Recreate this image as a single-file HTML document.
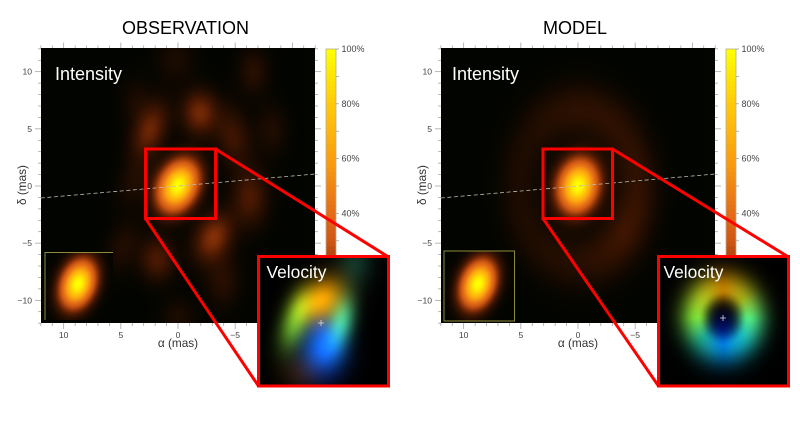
<!DOCTYPE html>
<html lang="en">
<head>
<meta charset="utf-8">
<title>Observation and model maps</title>
<style>
html,body{margin:0;padding:0;background:#fff;}
#stage{position:relative;width:800px;height:428px;overflow:hidden;background:#fff;font-family:"Liberation Sans",sans-serif;}
#stage svg{position:absolute;left:0;top:0;filter:blur(0.25px);}
#stage canvas{position:absolute;display:block;}
</style>
</head>
<body>
<div id="stage">
  <svg id="under" width="800" height="428"></svg>
  <canvas id="obs-map" width="274" height="275" style="left:41px;top:48px"></canvas>
  <canvas id="model-map" width="274" height="275" style="left:441px;top:48px"></canvas>
  <canvas id="obs-beam" width="68" height="68" style="left:45px;top:252px"></canvas>
  <canvas id="model-beam" width="71" height="71" style="left:444px;top:251px"></canvas>
  <canvas id="obs-vel" width="133" height="132" style="left:257px;top:255px"></canvas>
  <canvas id="model-vel" width="133" height="132" style="left:657px;top:255px"></canvas>
  <svg id="over" width="800" height="428"></svg>
</div>
<script>
/* axis data */
const axisTickLabels = [10, 5, 0, -5, -10];
const axisMinorTicks = [-12,-11,-10,-9,-8,-7,-6,-5,-4,-3,-2,-1,0,1,2,3,4,5,6,7,8,9,10,11,12];
const colorbarTickLabels = [100, 80, 60, 40];
const colorbarTicks = [100, 90, 80, 70, 60, 50, 40, 30];
const colormapLevels = [0, 0.1, 0.2, 0.3, 0.4, 0.6, 0.8, 1];
const colormapRed = [0, 72, 150, 205, 226, 250, 255, 255];
const colormapGreen = [0, 20, 52, 86, 106, 158, 200, 255];
const colormapBlue = [0, 2, 10, 20, 24, 16, 10, 0];

/* observation intensity components, mas */
const obsAlpha = [0, 2.45, -1.9, -6.6, -4.8, -6.3, -3.1, 1.8, 4.8, -3.9, 0, 0.2, 3.7, -8.2, 3.8];
const obsDelta = [0, 4.9, 6.4, 10, 4.3, -1, -4.5, -6.4, -5.3, -8.3, -11.5, 11, 7.5, 4.9, 0.5];
const obsAmp = [1, 0.14, 0.15, 0.05, 0.08, 0.1, 0.17, 0.1, 0.04, 0.05, 0.035, 0.035, 0.03, 0.04, 0.04];
const obsMajor = [1.4, 1.7, 1.3, 1.4, 1.8, 1.7, 1.5, 1.3, 1.7, 1.6, 1.15, 1.4, 1.4, 1.5, 1.6];
const obsMinor = [1.0, 0.95, 1.05, 0.95, 1.05, 1.05, 1.05, 1.05, 0.95, 1.05, 1.05, 1.15, 0.95, 0.95, 0.95];
const obsTilt = [25, 20, 0, 0, -10, 0, 25, 0, 20, 0, 0, 0, 0, 0, 20];

/* model intensity: central source and ring amplitude by sector (top, then counter-clockwise on screen) */
const modelAlpha = [0];
const modelDelta = [0];
const modelAmp = [1];
const modelMajor = [1.4];
const modelMinor = [1.05];
const modelTilt = [12];
const modelRingAmp = [0.06, 0.04, 0.035, 0.04, 0.05, 0.085, 0.065, 0.06];
const modelRingRadiusAlpha = [5.1];
const modelRingRadiusDelta = [6.6];
const modelRingWidth = [1.7];

/* beam */
const beamMajor = [1.3];
const beamMinor = [0.88];
const beamTilt = [20];

/* observation velocity components, mas relative to the cross */
const velAlpha = [-0.05, 1.3, -1.0, -0.15, 0.95, -1.65, 0, 1.0, 0];
const velDelta = [1.1, 0, 0.05, -1.15, 0.95, 2.95, -2.2, -2.4, -0.2];
const velMajor = [0.85, 0.95, 0.85, 0.75, 0.6, 0.8, 0.8, 0.7, 0.4];
const velMinor = [0.65, 0.45, 0.42, 0.72, 0.4, 0.6, 0.8, 0.7, 0.4];
const velTilt = [40, 18, 14, 0, 20, 0, 0, 0, 0];
const velRed = [245, 90, 55, 10, 35, 15, 5, 40, 0];
const velGreen = [160, 155, 180, 95, 45, 50, 15, 20, 8];
const velBlue = [0, 35, 125, 225, 5, 40, 60, 0, 60];

/* model velocity ring colours by sector (top, then counter-clockwise on screen) */
const ringRed = [195, 170, 125, 30, 0, 25, 85, 160];
const ringGreen = [125, 190, 225, 165, 120, 180, 235, 170];
const ringBlue = [0, 30, 55, 130, 195, 175, 125, 25];
const ringRadiusX = [25];
const ringRadiusY = [28];

/* position-angle line */
const lineAlpha = [12, -12];
const lineDelta = [-1.05, 1.05];

const SCALE = 11.43;
const NS = 'http://www.w3.org/2000/svg';
const under = document.getElementById('under');
const over = document.getElementById('over');

function xScale(alpha, x0) { return x0 - alpha * SCALE; }
function yScale(delta) { return 186 - delta * SCALE; }
function barY(pct) { return 49 + (100 - pct) * 2.74; }

function lerp(a, b, t) { return a + (b - a) * t; }
function colormap(v) {
  v = Math.max(0, Math.min(1, v));
  let i = 0;
  while (i < colormapLevels.length - 2 && v > colormapLevels[i + 1]) i++;
  const t = (v - colormapLevels[i]) / (colormapLevels[i + 1] - colormapLevels[i]);
  return [lerp(colormapRed[i], colormapRed[i + 1], t), lerp(colormapGreen[i], colormapGreen[i + 1], t), lerp(colormapBlue[i], colormapBlue[i + 1], t)];
}
function gauss(dx, dy, major, minor, tilt) {
  const a = tilt * Math.PI / 180;
  const u = dx * Math.sin(a) + dy * Math.cos(a);
  const w = dx * Math.cos(a) - dy * Math.sin(a);
  return Math.exp(-(u * u) / (2 * major * major) - (w * w) / (2 * minor * minor));
}
function sector(values, dx, dy) {
  let ang = Math.atan2(-dx, dy);
  if (ang < 0) ang += 2 * Math.PI;
  const n = values.length;
  const p = ang / (2 * Math.PI) * n;
  const i = Math.floor(p) % n;
  return lerp(values[i], values[(i + 1) % n], p - Math.floor(p));
}
function paint(id, fn) {
  const c = document.getElementById(id);
  const g = c.getContext('2d');
  const img = g.createImageData(c.width, c.height);
  for (let y = 0; y < c.height; y++) {
    for (let x = 0; x < c.width; x++) {
      const rgb = fn(x + 0.5, y + 0.5);
      const k = (y * c.width + x) * 4;
      img.data[k] = rgb[0];
      img.data[k + 1] = rgb[1];
      img.data[k + 2] = rgb[2];
      img.data[k + 3] = 255;
    }
  }
  g.putImageData(img, 0, 0);
}
function withBase(rgb) {
  return [rgb[0] + 2, rgb[1] + 4, rgb[2]];
}

paint('obs-map', function (px, py) {
  const a = (178 - 41 - px) / SCALE;
  const d = (186 - 48 - py) / SCALE;
  let v = 0;
  for (let i = 0; i < obsAmp.length; i++) {
    v += obsAmp[i] * gauss(obsAlpha[i] - a, d - obsDelta[i], obsMajor[i], obsMinor[i], obsTilt[i]);
  }
  return withBase(colormap(v));
});
paint('model-map', function (px, py) {
  const a = (578 - 441 - px) / SCALE;
  const d = (186 - 48 - py) / SCALE;
  let v = 0;
  for (let i = 0; i < modelAmp.length; i++) {
    v += modelAmp[i] * gauss(modelAlpha[i] - a, d - modelDelta[i], modelMajor[i], modelMinor[i], modelTilt[i]);
  }
  const ex = a / modelRingRadiusAlpha[0];
  const ey = d / modelRingRadiusDelta[0];
  const rho = Math.sqrt(ex * ex + ey * ey);
  const radial = (rho - 1) * modelRingRadiusDelta[0];
  v += sector(modelRingAmp, -a, d) * Math.exp(-(radial * radial) / (2 * modelRingWidth[0] * modelRingWidth[0]));
  return withBase(colormap(v));
});
function beamFn(cx, cy) {
  return function (px, py) {
    const dx = (px - cx) / SCALE;
    const dy = (cy - py) / SCALE;
    return withBase(colormap(gauss(dx, dy, beamMajor[0], beamMinor[0], beamTilt[0])));
  };
}
paint('obs-beam', beamFn(33, 32));
paint('model-beam', beamFn(34, 33));

const VEL_SCALE = 20.7;
paint('obs-vel', function (px, py) {
  const dx = (px - 64) / VEL_SCALE;
  const dy = (68 - py) / VEL_SCALE;
  let r = 0, g = 0, b = 0;
  for (let i = 0; i < velRed.length; i++) {
    const k = gauss(dx + velAlpha[i], dy - velDelta[i], velMajor[i], velMinor[i], velTilt[i]);
    r += velRed[i] * k;
    g += velGreen[i] * k;
    b += velBlue[i] * k;
  }
  return [r, g, b];
});
paint('model-vel', function (px, py) {
  const dx = px - 66;
  const dy = 63 - py;
  const ex = dx / ringRadiusX[0];
  const ey = dy / ringRadiusY[0];
  const rho = Math.sqrt(ex * ex + ey * ey);
  const s = rho < 1 ? 0.3 : 0.5;
  const k = Math.exp(-((rho - 1) * (rho - 1)) / (2 * s * s));
  const n = Math.exp(-(dx * dx + (dy + 11) * (dy + 11)) / (2 * 11 * 11));
  return [sector(ringRed, dx, dy) * k, sector(ringGreen, dx, dy) * k + 8 * n, sector(ringBlue, dx, dy) * k + 85 * n];
});

function make(parent, tag, attrs, text) {
  const el = document.createElementNS(NS, tag);
  for (const key in attrs) el.setAttribute(key, attrs[key]);
  if (text !== undefined) el.textContent = text;
  parent.appendChild(el);
  return el;
}
function tickLine(x1, y1, x2, y2, w) {
  const el = make(under, 'line', { x1: x1, y1: y1, x2: x2, y2: y2, stroke: '#999', 'stroke-width': w });
  
  
}
function minusText(v) { return v < 0 ? '\u2212' + Math.abs(v) : String(v); }

function drawPanel(off, title, titleX, textOff, box, boxY, insetX) {
  const cx = 178 + off;
  const t = make(under, 'text', { x: titleX, y: 34, 'text-anchor': 'middle', 'font-size': 18, fill: '#000' }, title);
  
  

  axisMinorTicks.forEach(function (v) {
    const major = v % 5 === 0;
    const len = major ? 6 : 3;
    const x = xScale(v, cx);
    const y = yScale(v);
    tickLine(x, 48.5, x, 48.5 - len, 0.7);
    tickLine(x, 323, x, 323 + len, 0.7);
    tickLine(41 + off, y, 41 + off - len, y, 0.7);
    tickLine(315 + off, y, 315 + off + len, y, 0.7);
  });
  axisTickLabels.forEach(function (v) {
    const xl = make(under, 'text', { x: xScale(v, cx), y: 338, 'text-anchor': 'middle', 'font-size': 8.6, fill: '#444' }, minusText(v));
    
    
    const yl = make(under, 'text', { x: 32 + off, y: yScale(v) + 3, 'text-anchor': 'end', 'font-size': 8.6, fill: '#444' }, minusText(v));
    
    
  });
  const xt = make(under, 'text', { x: cx, y: 347, 'text-anchor': 'middle', 'font-size': 11.8, fill: '#333' }, '\u03B1 (mas)');
  
  
  const yt = make(under, 'text', { x: 0, y: 0, 'text-anchor': 'middle', 'font-size': 11.8, fill: '#333', transform: 'translate(' + (26 + off) + ',185) rotate(-90)' }, '\u03B4 (mas)');
  
  

  const barX = 326 + off;
  for (let p = 100; p > 0; p -= 1.5) {
    const c = colormap(p / 100);
    const seg = make(under, 'rect', { x: barX, y: barY(p), width: 10, height: 4.6, fill: 'rgb(' + c.map(Math.round).join(',') + ')' });
    
    
  }
  const frame = make(under, 'rect', { x: barX, y: barY(100), width: 10, height: 274, fill: 'none', stroke: '#b5ad98', 'stroke-width': 0.8 });
  
  
  colorbarTicks.forEach(function (p) {
    tickLine(barX + 10, barY(p), barX + 13, barY(p), 0.7);
  });
  colorbarTickLabels.forEach(function (p) {
    const l = make(under, 'text', { x: 341.5 + off, y: barY(p) + 3, 'font-size': 9, fill: '#444' }, p + '%');
    
    
  });

  const dash = make(over, 'line', {
    x1: xScale(lineAlpha[0], cx), y1: yScale(lineDelta[0]),
    x2: xScale(lineAlpha[1], cx), y2: yScale(lineDelta[1]),
    stroke: '#b9b9b0', 'stroke-width': 0.8, 'stroke-dasharray': '4 2.6'
  });
  
  

  const rb = make(over, 'rect', { x: box[0], y: boxY[0], width: box[1] - box[0], height: boxY[1] - boxY[0], fill: 'none', stroke: '#f00', 'stroke-width': 3 });
  
  
  const l1 = make(over, 'line', { x1: box[1], y1: boxY[0], x2: insetX + 130, y2: 257, stroke: '#f00', 'stroke-width': 3 });
  
  
  const l2 = make(over, 'line', { x1: box[0], y1: boxY[1], x2: insetX, y2: 386, stroke: '#f00', 'stroke-width': 3 });
  
  
  const ins = make(over, 'rect', { x: insetX, y: 256.5, width: 130, height: 129.5, fill: 'none', stroke: '#f00', 'stroke-width': 3 });
  
  

  const it = make(over, 'text', { x: 55 + off + textOff, y: 80, 'font-size': 18, fill: '#fff' }, 'Intensity');
  
  
  const vt = make(over, 'text', { x: insetX + 8 + (off ? -3 : 0), y: 278, 'font-size': 17.4, fill: '#fff' }, 'Velocity');
  
  
}

drawPanel(0, 'OBSERVATION', 185.5, 0, [145.5, 215.5], [149, 218.5], 258.5);
drawPanel(400, 'MODEL', 575, -3, [543, 612.5], [149, 218.5], 658.5);

function plus(x, y) {
  const h = make(over, 'path', { d: 'M' + (x - 3) + ' ' + y + 'H' + (x + 3) + 'M' + x + ' ' + (y - 3) + 'V' + (y + 3), stroke: '#ddd', 'stroke-width': 0.8, fill: 'none' });
  
  
}
plus(321, 323);
plus(723, 318);

const ob = make(over, 'path', { d: 'M45 320V252.5H113', fill: 'none', stroke: '#8f8a3c', 'stroke-width': 1 });


const mb = make(over, 'rect', { x: 444, y: 251, width: 70.5, height: 70, fill: 'none', stroke: '#8f8a3c', 'stroke-width': 1 });


</script>
</body>
</html>
